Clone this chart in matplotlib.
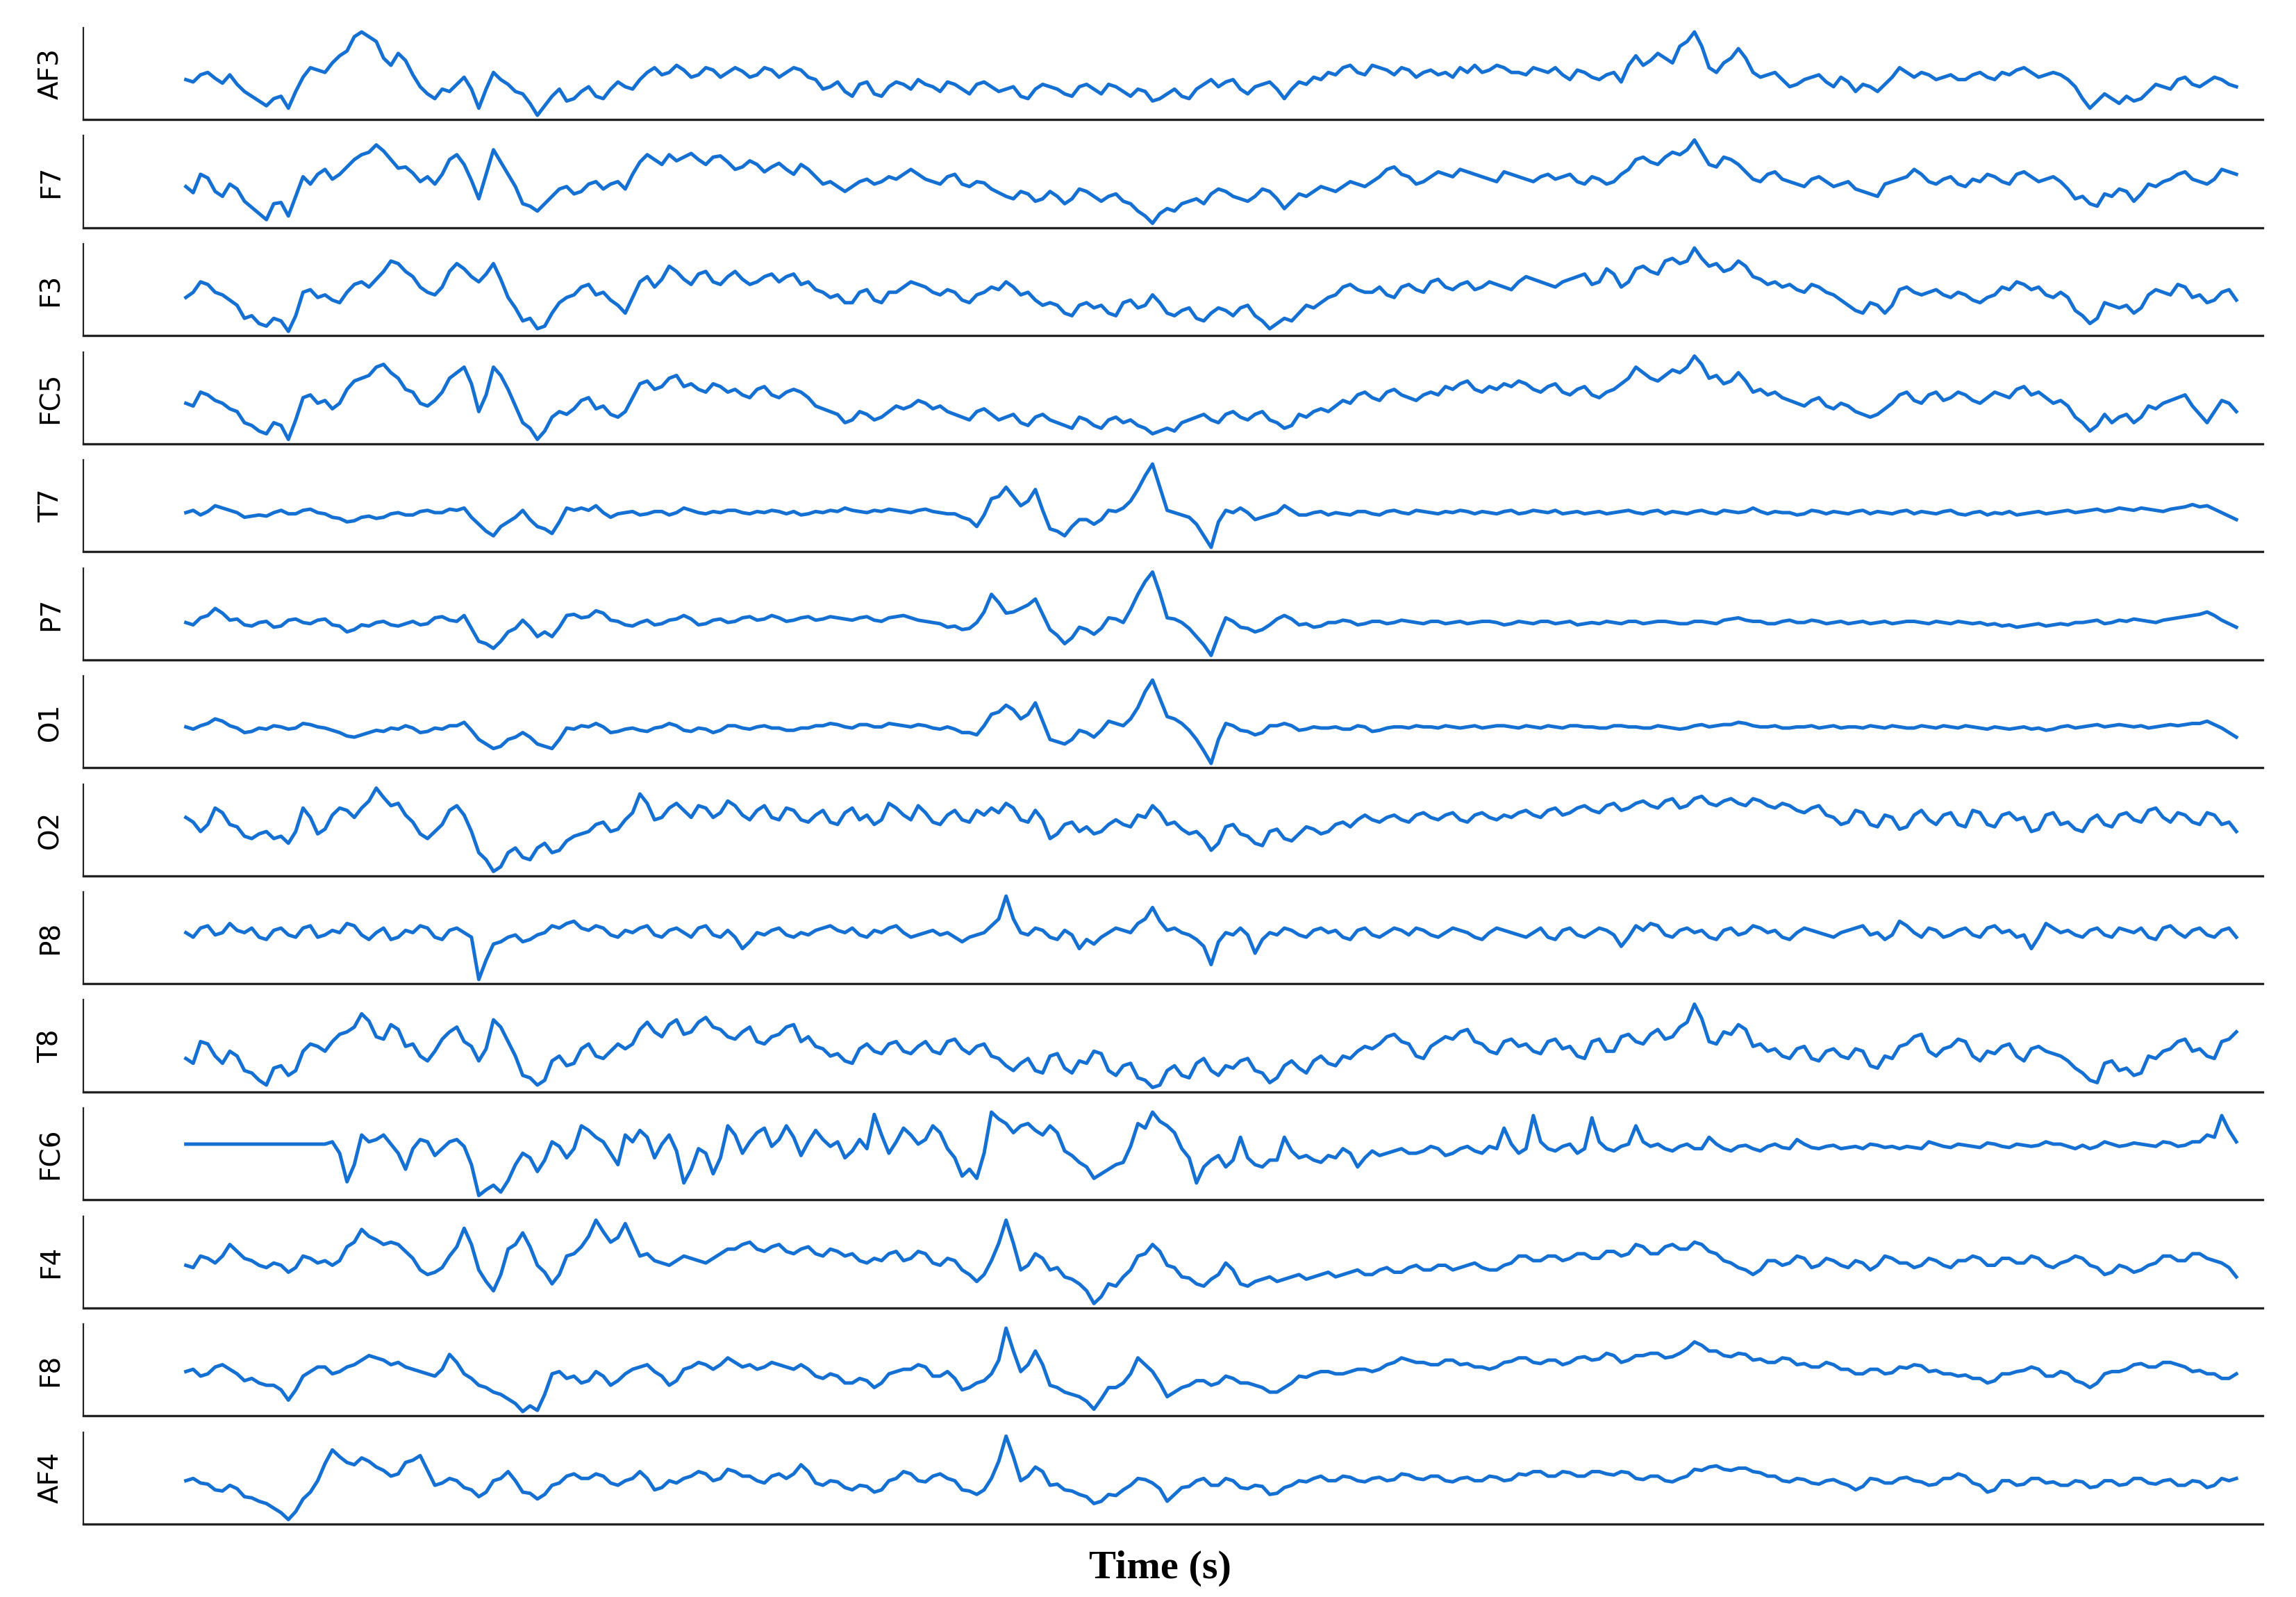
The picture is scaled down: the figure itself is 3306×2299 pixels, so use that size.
import numpy as np
import matplotlib.pyplot as plt

# EEG channels (Emotiv, 14 electrodes).
# Each channel: coarse samples plus the in-between samples (the noise band).
channels = ['AF3', 'F7', 'F3', 'FC5', 'T7', 'P7', 'O1', 'O2', 'P8', 'T8', 'FC6', 'F4', 'F8', 'AF4']
duration = 117.0  # seconds

af3 = [34, 38, 35, 38, 24, 16, 18, 10, 36, 42, 48, 58, 74, 66, 46, 50, 28, 18, 24, 36,
       10, 40, 30, 22, 4, 20, 16, 24, 20, 26, 28, 34, 44, 40, 42, 38, 42, 40, 41, 38,
       42, 40, 42, 34, 28, 24, 30, 22, 28, 30, 34, 28, 32, 26, 30, 28, 26, 20, 26, 28,
       22, 28, 26, 30, 24, 26, 16, 22, 20, 26, 34, 32, 26, 28, 32, 18, 32, 36, 40, 44,
       40, 46, 42, 44, 36, 42, 40, 44, 46, 42, 44, 40, 44, 40, 38, 42, 36, 38, 32, 54,
       50, 52, 62, 74, 44, 48, 60, 40, 38, 34, 30, 36, 32, 36, 24, 28, 30, 44, 36, 38,
       36, 34, 38, 36, 40, 42, 40, 38, 38, 28, 10, 22, 14, 16, 24, 28, 34, 30, 32, 34, 28]
af3_mid = [32, 40, 31, 30, 20, 12, 20, 24, 44, 40, 54, 70, 70, 52, 56, 38, 22, 26, 30, 26,
           26, 34, 24, 14, 12, 26, 18, 28, 18, 32, 26, 40, 38, 46, 36, 44, 36, 44, 36, 44,
           36, 44, 36, 26, 32, 20, 32, 20, 32, 26, 30, 24, 30, 22, 32, 24, 28, 18, 30, 26,
           20, 30, 22, 28, 20, 24, 18, 26, 18, 30, 28, 34, 22, 30, 26, 26, 30, 34, 38, 46,
           38, 44, 38, 42, 40, 38, 36, 40, 40, 46, 40, 38, 42, 44, 34, 40, 34, 40, 46, 46,
           56, 48, 66, 62, 40, 52, 52, 36, 40, 28, 34, 38, 28, 32, 30, 24, 36, 40, 40, 34,
           38, 34, 40, 34, 38, 44, 36, 40, 34, 18, 16, 18, 20, 18, 30, 26, 36, 28, 36, 30]
f7 = [35, 45, 31, 37, 23, 13, 21, 11, 43, 45, 41, 51, 61, 69, 57, 51, 39, 37, 57, 53,
      25, 65, 45, 21, 15, 27, 35, 31, 39, 37, 33, 55, 57, 61, 59, 57, 59, 55, 51, 53,
      51, 49, 53, 43, 39, 31, 39, 37, 43, 45, 45, 39, 43, 37, 39, 33, 27, 31, 23, 31,
      21, 33, 27, 27, 23, 15, 5, 17, 21, 25, 29, 31, 25, 27, 31, 17, 29, 31, 33, 35,
      37, 39, 49, 45, 37, 43, 45, 49, 45, 41, 47, 43, 39, 45, 43, 39, 43, 37, 45, 57,
      55, 59, 61, 73, 53, 59, 53, 41, 45, 41, 37, 41, 39, 37, 33, 29, 37, 41, 49, 39,
      41, 37, 41, 45, 39, 45, 43, 41, 39, 25, 21, 29, 33, 23, 37, 39, 45, 41, 37, 49, 45]
f7_mid = [30, 42, 27, 33, 18, 8, 22, 27, 37, 49, 45, 57, 63, 64, 50, 46, 43, 45, 61, 40,
          45, 55, 35, 19, 21, 33, 29, 37, 33, 39, 45, 61, 53, 56, 62, 53, 60, 49, 56, 47,
          54, 45, 49, 37, 35, 35, 41, 39, 41, 49, 41, 37, 45, 35, 38, 30, 25, 29, 25, 27,
          25, 31, 23, 29, 21, 11, 13, 15, 23, 21, 33, 27, 23, 33, 25, 23, 27, 35, 31, 39,
          35, 43, 51, 43, 39, 47, 43, 47, 43, 39, 45, 41, 43, 41, 45, 37, 41, 39, 49, 59,
          53, 63, 65, 63, 51, 57, 47, 39, 47, 39, 35, 43, 35, 39, 31, 27, 39, 43, 45, 37,
          43, 35, 39, 43, 37, 47, 39, 43, 33, 27, 19, 27, 31, 29, 35, 41, 47, 39, 41, 47]
f3 = [36, 48, 40, 34, 20, 16, 20, 10, 40, 36, 34, 40, 48, 50, 64, 56, 44, 38, 56, 58,
      48, 62, 36, 18, 12, 24, 36, 44, 38, 34, 24, 48, 44, 60, 50, 54, 48, 52, 50, 48,
      54, 52, 46, 42, 36, 32, 40, 34, 40, 44, 46, 40, 42, 34, 38, 44, 48, 38, 34, 32,
      24, 30, 28, 24, 32, 28, 38, 24, 26, 20, 24, 26, 28, 22, 12, 20, 24, 28, 36, 44,
      42, 40, 38, 44, 42, 48, 44, 46, 42, 48, 44, 48, 50, 46, 48, 52, 46, 58, 44, 58,
      56, 64, 62, 74, 60, 56, 64, 52, 46, 44, 42, 46, 40, 34, 26, 32, 24, 42, 40, 40,
      38, 40, 34, 36, 44, 48, 42, 38, 40, 26, 16, 32, 28, 24, 38, 40, 46, 36, 32, 40, 34]
f3_mid = [40, 46, 38, 30, 22, 14, 18, 22, 42, 38, 32, 46, 44, 56, 62, 52, 40, 44, 62, 52,
          54, 50, 28, 20, 14, 32, 38, 46, 40, 30, 36, 52, 50, 56, 46, 56, 46, 56, 46, 52,
          48, 54, 48, 40, 38, 32, 42, 32, 40, 48, 44, 38, 40, 32, 40, 42, 44, 40, 30, 30,
          22, 32, 30, 22, 34, 30, 32, 22, 28, 18, 28, 22, 30, 18, 16, 18, 30, 32, 38, 46,
          40, 44, 36, 46, 40, 50, 42, 48, 44, 46, 42, 52, 48, 44, 50, 54, 48, 54, 48, 60,
          54, 66, 64, 66, 62, 58, 60, 50, 48, 46, 40, 44, 38, 30, 24, 30, 30, 44, 38, 42,
          36, 38, 32, 38, 42, 46, 44, 36, 36, 22, 20, 30, 30, 28, 42, 38, 44, 38, 34, 42]
fc5 = [31, 39, 33, 27, 17, 11, 17, 5, 35, 31, 27, 41, 49, 57, 53, 41, 31, 33, 49, 57,
       25, 57, 41, 17, 5, 21, 23, 33, 27, 23, 25, 45, 41, 49, 43, 41, 45, 39, 37, 41,
       37, 39, 39, 29, 25, 17, 25, 19, 25, 27, 33, 27, 25, 21, 25, 23, 21, 17, 21, 19,
       15, 21, 15, 19, 17, 15, 9, 13, 17, 21, 19, 23, 21, 23, 19, 13, 23, 25, 25, 33,
       37, 35, 39, 37, 33, 39, 43, 45, 41, 43, 45, 47, 41, 43, 39, 41, 37, 39, 45, 57,
       49, 51, 53, 65, 49, 45, 53, 39, 37, 35, 31, 33, 29, 31, 25, 21, 27, 37, 33, 37,
       33, 39, 33, 35, 37, 41, 37, 35, 33, 21, 11, 23, 21, 17, 29, 31, 35, 29, 17, 33, 25]
fc5_mid = [29, 37, 31, 25, 15, 9, 15, 19, 37, 33, 31, 47, 51, 59, 49, 39, 29, 39, 53, 45,
           37, 51, 29, 13, 11, 25, 27, 35, 29, 21, 35, 47, 43, 51, 45, 39, 43, 41, 35, 43,
           35, 41, 35, 27, 23, 19, 23, 21, 29, 29, 31, 29, 23, 19, 27, 19, 23, 15, 23, 17,
           13, 19, 13, 21, 19, 13, 11, 11, 19, 23, 17, 25, 19, 25, 17, 15, 21, 27, 29, 31,
           39, 33, 41, 35, 37, 37, 41, 47, 39, 41, 43, 45, 39, 45, 37, 43, 35, 41, 49, 53,
           47, 55, 57, 59, 51, 47, 47, 41, 39, 33, 29, 35, 27, 29, 23, 23, 31, 39, 31, 39,
           35, 37, 31, 39, 35, 43, 39, 31, 29, 17, 15, 17, 23, 21, 27, 33, 37, 23, 25, 31]
t7 = [34, 32, 40, 36, 30, 32, 34, 33, 36, 34, 30, 26, 30, 29, 33, 32, 35, 34, 37, 38,
      24, 14, 26, 36, 22, 16, 38, 38, 40, 30, 34, 32, 35, 32, 38, 34, 35, 36, 34, 35,
      36, 33, 32, 35, 36, 38, 35, 36, 37, 35, 36, 35, 33, 30, 22, 46, 56, 40, 54, 20,
      14, 28, 24, 36, 38, 54, 76, 36, 32, 24, 4, 36, 38, 28, 32, 40, 32, 34, 32, 33,
      35, 33, 35, 34, 36, 34, 35, 36, 33, 34, 35, 33, 36, 34, 33, 35, 34, 33, 35, 34,
      35, 33, 34, 35, 34, 36, 34, 38, 33, 34, 32, 36, 33, 34, 35, 33, 34, 35, 33, 34,
      35, 33, 34, 32, 33, 32, 34, 33, 35, 34, 36, 35, 38, 36, 37, 35, 38, 41, 40, 34, 28]
t7_mid = [36, 35, 38, 34, 31, 31, 36, 33, 37, 33, 29, 27, 31, 30, 34, 32, 36, 34, 36, 30,
          18, 22, 30, 28, 20, 26, 36, 36, 34, 33, 35, 33, 35, 34, 36, 33, 34, 36, 33, 34,
          35, 35, 33, 34, 35, 36, 34, 35, 36, 34, 37, 34, 33, 28, 32, 48, 48, 44, 36, 18,
          22, 28, 28, 35, 44, 66, 56, 34, 30, 14, 26, 34, 34, 30, 34, 36, 32, 35, 34, 32,
          35, 32, 36, 33, 35, 33, 34, 35, 35, 33, 36, 34, 35, 36, 34, 33, 35, 34, 36, 33,
          36, 35, 33, 36, 33, 35, 35, 35, 35, 34, 33, 35, 35, 33, 36, 35, 33, 36, 35, 33,
          36, 32, 35, 34, 35, 33, 35, 34, 36, 35, 37, 36, 37, 38, 36, 37, 39, 39, 37, 31]
p7 = [33, 37, 45, 35, 31, 33, 29, 35, 33, 35, 31, 25, 31, 33, 31, 32, 31, 37, 35, 39,
      17, 11, 25, 35, 21, 21, 39, 37, 43, 35, 31, 33, 31, 35, 39, 31, 35, 33, 37, 35,
      39, 34, 37, 35, 38, 36, 37, 35, 37, 39, 35, 33, 29, 27, 33, 57, 41, 45, 53, 27,
      15, 29, 23, 37, 33, 57, 76, 37, 33, 21, 5, 37, 29, 25, 31, 39, 31, 29, 33, 35,
      31, 34, 32, 35, 33, 34, 32, 34, 33, 34, 31, 34, 32, 34, 33, 31, 33, 34, 32, 34,
      33, 34, 32, 34, 33, 35, 37, 34, 32, 34, 33, 35, 32, 34, 33, 32, 34, 33, 34, 32,
      33, 34, 32, 31, 30, 29, 31, 30, 32, 33, 34, 32, 35, 36, 34, 35, 37, 39, 42, 35, 29]
p7_mid = [31, 39, 41, 36, 30, 34, 30, 36, 32, 36, 30, 27, 30, 34, 30, 34, 32, 38, 34, 28,
          15, 17, 28, 29, 25, 29, 40, 38, 41, 34, 30, 35, 32, 36, 36, 32, 36, 34, 38, 36,
          37, 35, 38, 36, 37, 35, 38, 34, 38, 37, 34, 32, 30, 28, 42, 50, 42, 48, 40, 22,
          20, 27, 28, 36, 44, 68, 58, 36, 28, 14, 22, 34, 28, 27, 36, 36, 32, 30, 33, 34,
          32, 34, 33, 34, 32, 34, 33, 32, 34, 33, 32, 33, 34, 32, 34, 32, 32, 33, 34, 32,
          34, 33, 32, 34, 32, 36, 35, 34, 32, 35, 33, 34, 33, 32, 34, 33, 32, 34, 33, 34,
          32, 33, 33, 32, 31, 30, 32, 31, 31, 33, 35, 33, 34, 35, 33, 36, 38, 40, 39, 32]
o1 = [35, 36, 42, 36, 30, 34, 36, 33, 38, 35, 32, 27, 28, 32, 34, 36, 30, 34, 36, 39,
      24, 16, 24, 30, 20, 16, 34, 36, 38, 30, 33, 32, 34, 38, 32, 34, 30, 36, 34, 35,
      34, 32, 34, 36, 38, 35, 37, 35, 38, 36, 37, 34, 35, 30, 28, 46, 54, 42, 56, 24,
      20, 32, 26, 40, 36, 52, 76, 44, 38, 24, 3, 38, 32, 28, 36, 38, 32, 35, 34, 33,
      36, 31, 34, 35, 36, 35, 36, 34, 36, 35, 36, 34, 35, 36, 34, 36, 35, 34, 36, 35,
      34, 35, 33, 36, 35, 37, 39, 36, 35, 34, 35, 36, 35, 34, 35, 36, 34, 35, 34, 35,
      36, 34, 35, 33, 34, 34, 33, 32, 35, 34, 36, 35, 37, 35, 34, 36, 36, 38, 40, 34, 26]
o1_mid = [33, 38, 40, 34, 31, 33, 35, 34, 37, 34, 30, 26, 30, 31, 33, 34, 31, 33, 36, 32,
          20, 18, 26, 26, 18, 24, 33, 35, 35, 31, 34, 31, 35, 36, 31, 33, 32, 36, 33, 36,
          34, 32, 34, 36, 37, 34, 37, 35, 37, 35, 36, 33, 33, 30, 36, 48, 50, 46, 40, 22,
          24, 30, 32, 38, 42, 66, 60, 42, 32, 14, 24, 36, 31, 30, 36, 36, 33, 34, 35, 33,
          35, 32, 35, 34, 35, 34, 35, 35, 34, 36, 35, 36, 34, 35, 36, 35, 34, 36, 35, 34,
          36, 34, 34, 37, 36, 37, 38, 35, 36, 34, 35, 34, 36, 35, 34, 35, 36, 34, 36, 34,
          35, 36, 34, 35, 33, 35, 34, 33, 36, 35, 37, 36, 36, 36, 35, 37, 37, 38, 37, 30]
o2 = [51, 39, 59, 45, 35, 37, 33, 29, 59, 37, 53, 57, 59, 76, 61, 53, 37, 39, 57, 53,
      21, 5, 21, 17, 25, 21, 31, 37, 45, 39, 49, 71, 49, 59, 57, 61, 51, 65, 53, 57,
      51, 59, 49, 53, 47, 55, 49, 45, 63, 53, 61, 47, 53, 49, 57, 59, 63, 49, 57, 33,
      45, 39, 37, 45, 45, 53, 61, 45, 41, 39, 23, 43, 37, 29, 39, 33, 37, 41, 39, 47,
      49, 49, 51, 49, 53, 51, 53, 49, 53, 51, 53, 55, 53, 57, 53, 59, 57, 61, 57, 63,
      61, 65, 59, 67, 63, 65, 63, 67, 61, 63, 57, 59, 53, 45, 57, 45, 53, 41, 53, 49,
      53, 45, 57, 45, 53, 49, 39, 53, 45, 41, 49, 45, 53, 49, 57, 51, 55, 47, 55, 45, 39]
o2_mid = [47, 45, 55, 43, 33, 39, 35, 39, 51, 41, 59, 51, 65, 68, 63, 47, 33, 45, 61, 39,
          15, 9, 25, 15, 29, 23, 35, 39, 47, 41, 55, 63, 51, 63, 51, 59, 55, 61, 49, 61,
          49, 57, 47, 57, 45, 59, 53, 49, 59, 49, 55, 45, 57, 47, 53, 55, 59, 47, 49, 37,
          47, 43, 39, 49, 43, 51, 55, 47, 37, 33, 29, 45, 35, 27, 41, 31, 43, 37, 45, 43,
          53, 47, 53, 47, 55, 49, 55, 47, 55, 49, 51, 57, 51, 59, 55, 61, 55, 63, 59, 65,
          59, 67, 61, 69, 61, 67, 61, 65, 59, 61, 55, 61, 51, 47, 55, 43, 51, 43, 57, 45,
          55, 43, 55, 43, 55, 51, 41, 55, 47, 39, 53, 43, 55, 47, 59, 47, 53, 45, 53, 47]
p8 = [44, 48, 42, 52, 44, 40, 46, 42, 48, 40, 46, 52, 42, 44, 38, 46, 50, 40, 46, 44,
      3, 34, 40, 36, 42, 50, 52, 48, 50, 42, 46, 48, 42, 46, 44, 48, 42, 46, 30, 44,
      46, 42, 44, 46, 50, 44, 42, 46, 48, 44, 42, 46, 44, 36, 42, 50, 76, 44, 48, 40,
      46, 30, 34, 44, 46, 52, 66, 46, 44, 38, 16, 44, 48, 26, 44, 48, 42, 46, 44, 40,
      46, 42, 44, 46, 48, 42, 44, 46, 40, 44, 46, 42, 44, 40, 46, 42, 44, 46, 32, 50,
      52, 42, 46, 44, 40, 46, 42, 50, 44, 40, 44, 46, 42, 44, 48, 42, 38, 54, 44, 48,
      40, 46, 42, 48, 44, 40, 30, 52, 44, 42, 46, 42, 48, 44, 40, 48, 44, 46, 42, 46, 40]
p8_mid = [40, 50, 44, 46, 48, 38, 48, 40, 50, 42, 44, 50, 38, 48, 40, 44, 48, 38, 48, 40,
          20, 36, 42, 38, 44, 48, 54, 46, 48, 40, 44, 50, 40, 48, 40, 50, 40, 40, 36, 42,
          48, 40, 42, 48, 46, 48, 40, 44, 50, 40, 44, 42, 40, 40, 44, 56, 56, 42, 46, 38,
          42, 38, 40, 48, 44, 56, 54, 48, 42, 32, 36, 42, 42, 38, 42, 46, 40, 48, 46, 38,
          48, 40, 48, 42, 46, 40, 48, 44, 38, 48, 44, 40, 48, 38, 48, 40, 48, 42, 40, 46,
          50, 40, 48, 46, 38, 48, 44, 48, 46, 38, 48, 44, 40, 46, 50, 44, 42, 50, 40, 46,
          42, 48, 40, 50, 46, 42, 40, 48, 46, 40, 48, 40, 46, 48, 38, 50, 40, 48, 40, 48]
t8 = [31, 45, 33, 37, 21, 13, 23, 17, 37, 41, 45, 53, 68, 49, 59, 41, 33, 37, 53, 45,
      29, 63, 45, 17, 9, 29, 25, 39, 33, 37, 39, 55, 53, 59, 51, 61, 57, 49, 53, 45,
      49, 57, 45, 41, 33, 29, 39, 37, 43, 37, 41, 37, 45, 39, 41, 33, 25, 27, 21, 33,
      23, 29, 37, 21, 25, 15, 7, 21, 17, 27, 21, 25, 29, 21, 11, 25, 23, 29, 27, 33,
      37, 39, 49, 45, 33, 41, 49, 53, 45, 37, 45, 41, 37, 45, 39, 33, 45, 37, 49, 45,
      51, 47, 57, 76, 45, 53, 59, 41, 37, 33, 39, 31, 37, 33, 39, 25, 33, 41, 49, 37,
      39, 47, 33, 37, 41, 33, 39, 37, 33, 23, 13, 27, 21, 17, 33, 37, 45, 37, 33, 45, 53]
t8_mid = [27, 43, 27, 33, 19, 9, 25, 21, 43, 37, 51, 57, 62, 47, 55, 43, 29, 47, 57, 41,
          39, 57, 33, 15, 13, 33, 27, 43, 31, 43, 43, 61, 49, 63, 53, 65, 55, 47, 57, 43,
          51, 59, 49, 39, 35, 27, 43, 35, 45, 35, 45, 35, 47, 35, 43, 31, 21, 31, 19, 35,
          19, 27, 35, 17, 27, 13, 9, 25, 15, 31, 17, 23, 31, 19, 15, 29, 19, 33, 25, 31,
          41, 43, 51, 43, 31, 45, 47, 55, 43, 35, 47, 43, 35, 47, 41, 31, 47, 37, 51, 43,
          55, 49, 61, 64, 43, 51, 55, 43, 39, 31, 41, 29, 39, 31, 37, 23, 31, 43, 51, 33,
          41, 45, 29, 35, 43, 29, 41, 35, 29, 19, 11, 29, 23, 19, 31, 39, 47, 39, 31, 47]
fc6 = [48, 48, 48, 48, 48, 48, 48, 48, 48, 48, 50, 15, 56, 52, 48, 26, 52, 38, 50, 46,
       3, 12, 16, 40, 24, 50, 36, 64, 54, 40, 56, 60, 36, 56, 14, 44, 22, 64, 40, 58,
       46, 64, 38, 60, 46, 36, 52, 74, 40, 62, 48, 64, 44, 20, 18, 76, 66, 64, 60, 64,
       42, 32, 18, 26, 32, 66, 76, 64, 44, 14, 34, 28, 54, 30, 34, 54, 36, 34, 38, 44,
       28, 42, 40, 44, 40, 46, 38, 44, 42, 46, 62, 40, 73, 44, 46, 40, 71, 44, 46, 64,
       46, 44, 46, 44, 54, 44, 46, 44, 46, 45, 52, 45, 46, 44, 46, 48, 45, 44, 45, 50,
       46, 48, 46, 49, 46, 48, 46, 50, 48, 44, 44, 50, 46, 49, 47, 50, 46, 50, 56, 73, 50]
fc6_mid = [48, 48, 48, 48, 48, 48, 48, 48, 48, 48, 40, 30, 50, 56, 40, 44, 50, 44, 52, 30,
           8, 6, 30, 36, 34, 46, 44, 60, 50, 30, 50, 54, 48, 42, 26, 40, 36, 56, 50, 62,
           52, 54, 50, 52, 50, 42, 44, 56, 50, 56, 52, 58, 36, 26, 40, 70, 58, 66, 56, 58,
           38, 28, 22, 30, 46, 62, 68, 58, 36, 28, 38, 34, 36, 28, 34, 42, 38, 32, 36, 40,
           36, 38, 42, 40, 42, 44, 40, 46, 40, 44, 48, 44, 50, 42, 48, 44, 50, 42, 48, 50,
           48, 42, 48, 44, 48, 42, 47, 42, 48, 44, 48, 44, 47, 45, 44, 47, 46, 46, 44, 48,
           45, 47, 45, 48, 45, 47, 47, 48, 46, 47, 46, 48, 47, 48, 46, 49, 47, 50, 54, 60]
f4 = [37, 45, 39, 55, 43, 37, 39, 31, 45, 39, 37, 53, 68, 59, 57, 49, 33, 31, 45, 69,
      33, 15, 51, 65, 37, 21, 45, 53, 76, 57, 73, 45, 41, 37, 45, 41, 43, 51, 55, 51,
      53, 49, 51, 47, 51, 45, 41, 43, 47, 41, 49, 39, 43, 33, 23, 41, 76, 33, 47, 33,
      27, 21, 4, 21, 27, 45, 55, 37, 27, 21, 25, 39, 21, 23, 27, 25, 29, 27, 31, 29,
      33, 29, 35, 31, 37, 33, 37, 35, 39, 33, 37, 45, 41, 45, 41, 47, 43, 49, 45, 55,
      47, 53, 51, 57, 49, 41, 35, 29, 41, 37, 45, 35, 43, 37, 41, 33, 45, 39, 35, 43,
      37, 41, 45, 37, 43, 39, 45, 37, 39, 45, 37, 29, 37, 31, 37, 45, 41, 47, 43, 39, 27]
f4_mid = [35, 43, 45, 49, 41, 35, 37, 35, 43, 41, 41, 57, 62, 55, 55, 43, 29, 35, 53, 55,
          23, 29, 55, 53, 31, 29, 47, 62, 66, 61, 59, 47, 39, 41, 43, 39, 47, 51, 57, 49,
          55, 47, 53, 45, 49, 47, 39, 41, 49, 43, 47, 37, 41, 29, 29, 56, 56, 37, 43, 35,
          25, 15, 10, 19, 33, 47, 49, 35, 26, 19, 29, 33, 19, 25, 23, 27, 25, 29, 27, 31,
          29, 33, 31, 35, 33, 37, 33, 37, 35, 33, 39, 45, 41, 45, 43, 47, 43, 49, 47, 53,
          47, 55, 51, 55, 47, 39, 33, 33, 41, 39, 43, 37, 41, 35, 39, 37, 43, 39, 37, 41,
          35, 41, 43, 37, 43, 39, 43, 35, 41, 43, 35, 31, 35, 33, 39, 45, 41, 47, 41, 35]
f8 = [38, 34, 42, 40, 30, 28, 26, 13, 34, 42, 36, 42, 48, 50, 44, 42, 38, 34, 53, 36,
      26, 20, 14, 3, 4, 36, 32, 28, 38, 26, 36, 42, 38, 26, 40, 46, 40, 50, 42, 40,
      46, 42, 44, 34, 36, 28, 32, 24, 36, 40, 44, 34, 38, 22, 28, 36, 76, 38, 56, 26,
      20, 16, 5, 24, 28, 50, 38, 16, 24, 30, 26, 34, 28, 26, 20, 24, 34, 36, 38, 36,
      40, 38, 44, 50, 46, 44, 48, 44, 42, 40, 46, 50, 46, 48, 44, 50, 48, 54, 46, 52,
      54, 50, 54, 64, 56, 52, 54, 48, 46, 50, 44, 42, 46, 40, 36, 40, 36, 42, 44, 38,
      36, 34, 32, 28, 36, 38, 42, 34, 38, 30, 24, 36, 38, 44, 42, 46, 44, 38, 36, 32, 36]
f8_mid = [40, 36, 44, 36, 32, 26, 22, 22, 38, 42, 38, 44, 52, 48, 46, 40, 36, 40, 46, 32,
          24, 18, 10, 8, 18, 38, 34, 30, 34, 30, 40, 44, 34, 30, 42, 44, 44, 46, 44, 42,
          44, 40, 40, 32, 34, 28, 30, 28, 38, 40, 42, 34, 32, 24, 30, 48, 56, 44, 44, 24,
          18, 12, 14, 24, 36, 44, 28, 20, 26, 30, 28, 32, 28, 24, 20, 28, 33, 38, 36, 38,
          40, 40, 46, 48, 46, 44, 48, 45, 42, 42, 47, 50, 45, 48, 46, 51, 49, 52, 48, 52,
          54, 51, 58, 61, 56, 51, 53, 49, 46, 49, 45, 42, 44, 40, 36, 40, 37, 41, 43, 39,
          36, 35, 32, 30, 36, 39, 40, 34, 36, 28, 28, 38, 40, 45, 42, 46, 42, 39, 36, 32]
af4 = [37, 35, 29, 33, 23, 19, 13, 3, 21, 37, 64, 53, 57, 49, 41, 53, 59, 33, 39, 31,
       23, 37, 45, 27, 21, 33, 41, 39, 43, 35, 37, 45, 29, 37, 39, 45, 37, 47, 41, 37,
       41, 39, 51, 35, 37, 31, 33, 27, 37, 45, 37, 41, 39, 29, 25, 39, 76, 37, 49, 33,
       29, 25, 17, 25, 29, 39, 35, 19, 31, 37, 33, 39, 31, 33, 25, 31, 37, 39, 37, 41,
       37, 39, 37, 43, 39, 41, 37, 39, 37, 41, 37, 43, 45, 41, 45, 41, 45, 43, 45, 39,
       41, 37, 39, 47, 49, 47, 48, 45, 41, 37, 39, 35, 37, 35, 29, 39, 35, 39, 37, 33,
       39, 43, 35, 27, 37, 33, 39, 35, 33, 37, 31, 37, 33, 39, 35, 37, 33, 37, 31, 39, 39]
af4_mid = [39, 34, 28, 30, 22, 17, 9, 10, 27, 52, 58, 51, 54, 46, 43, 55, 46, 35, 37, 29,
           27, 39, 37, 26, 25, 35, 43, 39, 41, 33, 39, 39, 31, 35, 41, 43, 39, 45, 41, 35,
           43, 43, 45, 33, 36, 29, 32, 29, 39, 43, 36, 43, 37, 28, 29, 54, 58, 41, 45, 34,
           28, 23, 19, 24, 33, 38, 30, 25, 32, 39, 33, 37, 30, 32, 26, 33, 36, 41, 37, 40,
           36, 40, 38, 42, 38, 41, 36, 40, 37, 40, 38, 42, 45, 41, 44, 41, 45, 42, 44, 38,
           41, 36, 41, 46, 50, 46, 48, 44, 41, 36, 38, 34, 38, 33, 32, 38, 35, 40, 36, 34,
           39, 41, 33, 29, 37, 34, 39, 36, 33, 36, 32, 37, 34, 39, 34, 38, 33, 36, 33, 37]

series = [(af3, af3_mid), (f7, f7_mid), (f3, f3_mid), (fc5, fc5_mid), (t7, t7_mid),
          (p7, p7_mid), (o1, o1_mid), (o2, o2_mid), (p8, p8_mid), (t8, t8_mid),
          (fc6, fc6_mid), (f4, f4_mid), (f8, f8_mid), (af4, af4_mid)]

line_color = '#1570d3'

fig = plt.figure(figsize=(16.53, 11.495), dpi=200)

fig_h = 2299.0
left = 120 / 3306
width = (3258 - 120) / 3306
ax_h = 132 / fig_h

for k, (name, (main, mid)) in enumerate(zip(channels, series)):
    t_main = np.linspace(0, duration, len(main))
    n_mid = min(len(mid), len(main) - 1)
    t_mid = (t_main[:-1] + t_main[1:])[:n_mid] / 2
    t = np.concatenate([t_main, t_mid])
    v = np.concatenate([main, mid[:n_mid]])
    order = np.argsort(t, kind='stable')

    bottom = 1 - (172 + 155.5 * k) / fig_h
    ax = fig.add_axes([left, bottom, width, ax_h])
    ax.plot(t[order], v[order], color=line_color, linewidth=1.8)
    ax.set_xlim(-5.85, 118.5)
    ax.margins(y=0.05)
    ax.set_xticks([])
    ax.set_yticks([])
    ax.spines['top'].set_visible(False)
    ax.spines['right'].set_visible(False)
    ax.spines['left'].set_color('#222222')
    ax.spines['left'].set_linewidth(0.8)
    ax.spines['bottom'].set_color('#222222')
    ax.spines['bottom'].set_linewidth(1.2)
    ax.set_ylabel(name, fontsize=14, family='DejaVu Sans')
    ax.yaxis.set_label_coords(-0.009, 0.5)

fig.text(1670 / 3306, 1 - 2258 / fig_h, 'Time (s)', ha='center', va='center',
         fontsize=21, fontweight='bold', family='Liberation Serif')

fig.savefig('out.png', dpi=200)
